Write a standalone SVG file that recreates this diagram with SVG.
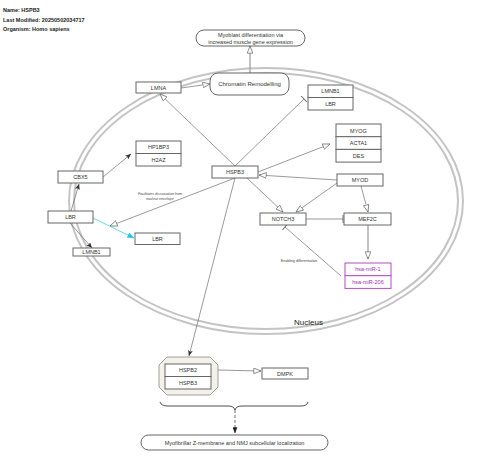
<svg xmlns="http://www.w3.org/2000/svg" width="480" height="466" viewBox="0 0 480 466">
<style>
text{font-family:"Liberation Sans",Arial,sans-serif;fill:#333;}
.hdr{font-size:5.5px;font-weight:bold;fill:#222;}
.lbl{font-size:5.5px;text-anchor:middle;}
.box{fill:#fff;stroke:#666;stroke-width:1;}
.mir{fill:#fff;stroke:#b44cc0;stroke-width:1;}
.mirt{font-size:5.5px;text-anchor:middle;fill:#a030b0;}
.e{fill:none;stroke:#555;stroke-width:0.6;}
.eg{fill:none;stroke:#999;stroke-width:1.2;}
.small{font-size:3.6px;font-style:italic;text-anchor:middle;fill:#444;}
.nuc{fill:none;stroke:#c4c4c4;stroke-width:2;}
</style>
<defs>
<marker id="open" viewBox="0 0 10 8" refX="9.5" refY="4" markerWidth="8" markerHeight="6.4" markerUnits="userSpaceOnUse" orient="auto">
<path d="M0.5,0.5 L9.5,4 L0.5,7.5 Z" fill="#fff" stroke="#666" stroke-width="0.9"/>
</marker>
<marker id="tbar" viewBox="0 0 2 10" refX="1" refY="5" markerWidth="1.6" markerHeight="8" markerUnits="userSpaceOnUse" orient="auto">
<path d="M1,0 L1,10" stroke="#666" stroke-width="1.2"/>
</marker>
<marker id="fill" viewBox="0 0 10 8" refX="9.5" refY="4" markerWidth="6" markerHeight="5" markerUnits="userSpaceOnUse" orient="auto">
<path d="M0,0 L10,4 L0,8 L2,4 Z" fill="#333"/>
</marker>
<marker id="cyan" viewBox="0 0 10 8" refX="9.5" refY="4" markerWidth="7" markerHeight="5.6" markerUnits="userSpaceOnUse" orient="auto">
<path d="M0,0 L10,4 L0,8 Z" fill="#1ec8e6"/>
</marker>
<marker id="dash" viewBox="0 0 10 8" refX="9.5" refY="4" markerWidth="6" markerHeight="5" markerUnits="userSpaceOnUse" orient="auto">
<path d="M0,0 L10,4 L0,8 Z" fill="#222"/>
</marker>
</defs>

<g id="header">
<text class="hdr" x="3" y="12">Name: HSPB3</text>
<text class="hdr" x="3" y="22">Last Modified: 20250502034717</text>
<text class="hdr" x="3" y="31">Organism: Homo sapiens</text>
</g>

<g id="nucleus">
<ellipse class="nuc" cx="266" cy="201" rx="197" ry="133"/>
<ellipse class="nuc" cx="266" cy="201" rx="192" ry="128"/>
<text x="294" y="325" style="font-size:8px;fill:#222;">Nucleus</text>
</g>

<g id="connectors">
<line class="eg" x1="250" y1="73" x2="250" y2="46" marker-end="url(#open)"/>
<line class="e" x1="181" y1="88" x2="210" y2="84" marker-end="url(#open)"/>
<line class="e" x1="235" y1="166" x2="160" y2="94" marker-end="url(#open)"/>
<line class="e" x1="235" y1="166" x2="304" y2="99" marker-end="url(#tbar)"/>
<line class="e" x1="258" y1="172" x2="330" y2="144" marker-end="url(#open)"/>
<line class="e" x1="337" y1="180" x2="259" y2="175" marker-end="url(#open)"/>
<line class="e" x1="247" y1="178" x2="283" y2="212" marker-end="url(#open)"/>
<line class="e" x1="337" y1="183" x2="296" y2="212" marker-end="url(#open)"/>
<line class="e" x1="361" y1="186" x2="368" y2="212" marker-end="url(#open)"/>
<line class="eg" x1="306" y1="219" x2="343" y2="219" marker-end="url(#tbar)"/>
<line class="eg" x1="368" y1="225" x2="368" y2="259" marker-end="url(#open)"/>
<line class="e" x1="341" y1="276" x2="285" y2="227" marker-end="url(#tbar)"/>
<line class="e" x1="235" y1="178" x2="110" y2="226" marker-end="url(#open)"/>
<line class="e" x1="103" y1="177" x2="131" y2="154" marker-end="url(#fill)"/>
<line class="e" x1="71" y1="211" x2="79" y2="184" marker-end="url(#fill)"/>
<line class="e" x1="70" y1="223" x2="92" y2="248" marker-end="url(#fill)"/>
<line x1="93" y1="218" x2="134" y2="238" stroke="#1ec8e6" stroke-width="0.7" marker-end="url(#cyan)"/>
<line class="e" x1="235" y1="178" x2="189" y2="356" marker-end="url(#fill)"/>
<line class="eg" x1="217" y1="370" x2="261" y2="371" stroke-width="0.8" marker-end="url(#open)"/>
<path d="M160,402 Q161,406 168,406 L228,406 Q234,406 235,410 Q236,406 242,406 L301,406 Q307,406 308,402" fill="none" stroke="#222" stroke-width="0.8"/>
<line x1="235" y1="410" x2="235" y2="433" stroke="#333" stroke-width="0.7" stroke-dasharray="3,2" marker-end="url(#dash)"/>
<text class="small" x="160" y="195">Facilitates dissociation from</text>
<text class="small" x="160" y="200">nuclear envelope</text>
<text class="small" x="299" y="262" style="font-style:normal;">Enabling differentiation</text>
</g>

<g id="myoblast">
<rect class="box" x="196" y="30" width="109" height="16" rx="8"/>
<text class="lbl" x="250.5" y="37">Myoblast differentiation via</text>
<text class="lbl" x="250.5" y="43.5">increased muscle gene expression</text>
</g>
<g id="chromatin">
<rect class="box" x="210" y="73" width="79" height="22" rx="8"/>
<text class="lbl" x="249.5" y="86" style="font-size:6px;">Chromatin Remodelling</text>
</g>
<g id="lmna">
<rect class="box" x="136" y="82" width="45" height="11"/>
<text class="lbl" x="158.5" y="89.5">LMNA</text>
</g>
<g id="lmnb1_lbr">
<rect class="box" x="308" y="85" width="45" height="12.5"/>
<text class="lbl" x="330.5" y="93">LMNB1</text>
<rect class="box" x="308" y="97.5" width="45" height="12.5"/>
<text class="lbl" x="330.5" y="105.8">LBR</text>
</g>
<g id="myog_group">
<rect class="box" x="336" y="124" width="45" height="12.7"/>
<text class="lbl" x="358.5" y="132.5">MYOG</text>
<rect class="box" x="336" y="136.7" width="45" height="12.7"/>
<text class="lbl" x="358.5" y="145.2">ACTA1</text>
<rect class="box" x="336" y="149.4" width="45" height="12.7"/>
<text class="lbl" x="358.5" y="157.9">DES</text>
</g>
<g id="hp1bp3_h2az">
<rect class="box" x="136" y="141" width="45" height="12.5"/>
<text class="lbl" x="158.5" y="149.2">HP1BP3</text>
<rect class="box" x="136" y="153.5" width="45" height="12.5"/>
<text class="lbl" x="158.5" y="161.7">H2AZ</text>
</g>
<g id="cbx5">
<rect class="box" x="58" y="171" width="45" height="12"/>
<text class="lbl" x="80.5" y="179">CBX5</text>
</g>
<g id="hspb3">
<rect class="box" x="212" y="166" width="46" height="12"/>
<text class="lbl" x="235" y="174">HSPB3</text>
</g>
<g id="myod">
<rect class="box" x="337" y="174" width="46" height="12"/>
<text class="lbl" x="360" y="182">MYOD</text>
</g>
<g id="lbr_left">
<rect class="box" x="48" y="211" width="45" height="12"/>
<text class="lbl" x="70.5" y="219">LBR</text>
</g>
<g id="lbr_right">
<rect class="box" x="135" y="233" width="45" height="11.5"/>
<text class="lbl" x="157.5" y="240.8">LBR</text>
</g>
<g id="lmnb1_bottom">
<rect class="box" x="73" y="248" width="37" height="8"/>
<text class="lbl" x="91.5" y="254">LMNB1</text>
</g>
<g id="notch3">
<rect class="box" x="260" y="213" width="46" height="12"/>
<text class="lbl" x="283" y="221">NOTCH3</text>
</g>
<g id="mef2c">
<rect class="box" x="344" y="213" width="47" height="12"/>
<text class="lbl" x="367.5" y="221">MEF2C</text>
</g>
<g id="mirs">
<rect class="mir" x="345" y="263" width="46" height="12.7"/>
<text class="mirt" x="368" y="271.3">hsa-miR-1</text>
<rect class="mir" x="345" y="275.7" width="46" height="12.7"/>
<text class="mirt" x="368" y="284">hsa-miR-206</text>
</g>
<g id="complex">
<polygon points="167,357 210,357 218,365 218,387 210,395 167,395 159,387 159,365" fill="#f3f2ea" stroke="#888" stroke-width="0.8"/>
<rect class="box" x="165" y="364" width="46" height="12.5"/>
<text class="lbl" x="188" y="372.3">HSPB2</text>
<rect class="box" x="165" y="376.5" width="46" height="12.5"/>
<text class="lbl" x="188" y="384.8">HSPB3</text>
</g>
<g id="dmpk">
<rect class="box" x="262" y="368" width="46" height="11"/>
<text class="lbl" x="285" y="375.5">DMPK</text>
</g>
<g id="myofibrillar">
<rect class="box" x="141" y="435" width="187" height="15" rx="7.5"/>
<text class="lbl" x="234.5" y="444.5">Myofibrillar Z-membrane and NMJ subcellular localization</text>
</g>
</svg>
